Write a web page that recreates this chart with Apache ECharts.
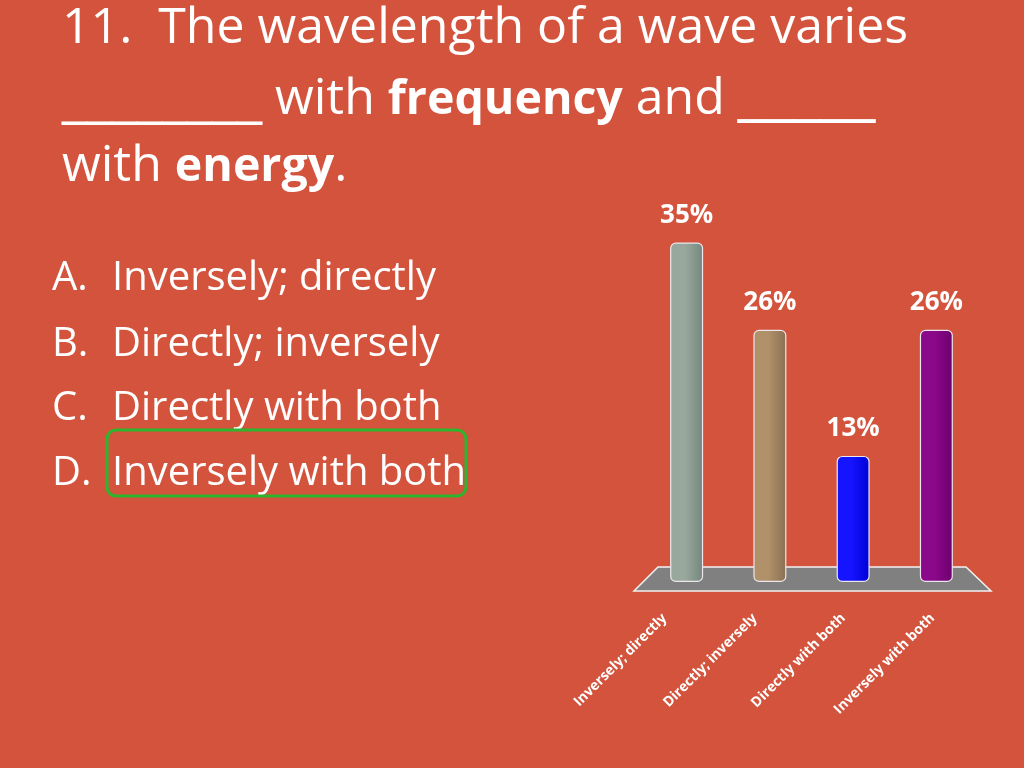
<!DOCTYPE html>
<html>
<head>
<meta charset="utf-8">
<script src="https://cdn.jsdelivr.net/npm/echarts@6/dist/echarts.min.js"></script>
<style>
html,body{margin:0;padding:0;background:#D3533C;}
#main{width:1024px;height:768px;}
</style>
</head>
<body>
<div id="main"></div>
<script>
const categories = ['Inversely; directly', 'Directly; inversely', 'Directly with both', 'Inversely with both'];
const values = [35, 26, 13, 26];
const barColors = [
  ['#98A89D', '#74867C'],
  ['#B0916A', '#8A6F51'],
  ['#1414FF', '#0000D6'],
  ['#8A088A', '#6C006C']
];
const optionLines = [
  ['A.', 'Inversely; directly'],
  ['B.', 'Directly; inversely'],
  ['C.', 'Directly with both'],
  ['D.', 'Inversely with both']
];

const FONT = 'Open Sans';
const chart = echarts.init(document.getElementById('main'));

const titleRich = {
  n: { fontFamily: FONT, fontSize: 50, fill: '#fff', fontWeight: 'normal', lineHeight: 60, verticalAlign: 'bottom' },
  b: { fontFamily: FONT, fontSize: 46.5, fill: '#fff', fontWeight: 'bold', lineHeight: 60, verticalAlign: 'bottom', padding: [0, 0, 1, 0] },
  u: { fontFamily: 'DejaVu Sans', fontSize: 50, fill: '#fff', fontWeight: 'normal', lineHeight: 60, verticalAlign: 'bottom' },
  u2: { fontFamily: 'DejaVu Sans', fontSize: 55, fill: '#fff', fontWeight: 'normal', lineHeight: 60, verticalAlign: 'bottom', padding: [0, 0, 2, 0] }
};

const graphics = [
  {
    type: 'polygon', z: 0, silent: true,
    shape: { points: [[658, 567], [966, 567], [991, 591], [634, 591]] },
    style: { fill: '#808080', stroke: '#f2f2f2', lineWidth: 1.5 }
  },
  { type: 'text', left: 62, top: 4, style: { text: '{n|11.  The wavelength of a wave varies}', rich: titleRich } },
  { type: 'text', left: 62, top: 68, style: { text: '{u|________}{n| with }{b|frequency}{n| and }{u2|_____}', rich: titleRich } },
  { type: 'text', left: 62, top: 142, style: { text: '{n|with }{b|energy}{n|.}', rich: titleRich } },
  {
    type: 'rect', z: 5,
    shape: { x: 107, y: 430, width: 359, height: 66, r: 9 },
    style: { fill: 'none', stroke: '#2DB52D', lineWidth: 3 }
  }
];
const optTops = [259, 325, 389, 454];
optionLines.forEach((o, i) => {
  graphics.push({ type: 'text', left: 52, top: optTops[i], style: { text: o[0], fill: '#fff', font: '40px "' + FONT + '"' } });
  graphics.push({ type: 'text', left: 112, top: optTops[i], style: { text: o[1], fill: '#fff', font: '40px "' + FONT + '"' } });
});

const labelShift = [22, 15, 10, 4];
const labelRich = {};
labelShift.forEach((d, i) => {
  const p = d / 1.414;
  labelRich['p' + i] = {
    color: '#fff', fontFamily: FONT, fontWeight: 'bold', fontSize: 14,
    padding: [0, p, 2 * p, 0]
  };
});

chart.setOption({
  backgroundColor: '#D3533C',
  animation: false,
  grid: { left: 645, right: 46, top: 194, bottom: 186 },
  xAxis: {
    type: 'category',
    data: categories,
    axisLine: { show: false },
    axisTick: { show: false },
    axisLabel: {
      rotate: 45, margin: 34, color: '#fff', fontFamily: FONT, fontWeight: 'bold', fontSize: 14,
      formatter: (v, i) => '{p' + i + '|' + v + '}',
      rich: labelRich
    }
  },
  yAxis: {
    type: 'value', min: 0, max: 40,
    show: false, splitLine: { show: false }
  },
  series: [{
    type: 'bar',
    barWidth: 33,
    z: 3,
    data: values.map((v, i) => ({
      value: v,
      itemStyle: {
        color: new echarts.graphic.LinearGradient(0, 0, 1, 0, [
          { offset: 0, color: barColors[i][0] },
          { offset: 0.45, color: barColors[i][0] },
          { offset: 1, color: barColors[i][1] }
        ])
      }
    })),
    itemStyle: { borderColor: '#ECE6EC', borderWidth: 1.2, borderRadius: [5, 5, 5, 5] },
    label: {
      show: true, position: 'top', distance: 14,
      formatter: '{c}%', color: '#fff', fontFamily: FONT, fontWeight: 'bold', fontSize: 26
    }
  }],
  graphic: graphics
});
</script>
</body>
</html>
